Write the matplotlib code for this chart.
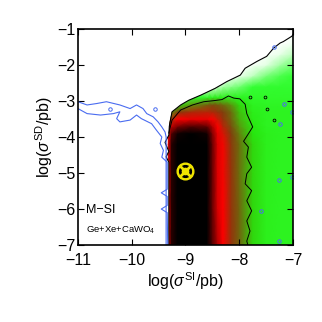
import numpy as np
import matplotlib.pyplot as plt
from matplotlib.colors import LinearSegmentedColormap
from matplotlib.path import Path
from matplotlib.patches import PathPatch

plt.rcParams['font.family'] = ['Liberation Sans', 'DejaVu Sans']
plt.rcParams['mathtext.fontset'] = 'custom'
plt.rcParams['mathtext.rm'] = 'Liberation Sans'
plt.rcParams['mathtext.it'] = 'Liberation Sans:italic'

# posterior density on a coarse grid: columns log(sigma_SI), rows log(sigma_SD)
grid_x = [-9.32, -9.26, -9.15, -8.9, -8.6, -8.5, -8.4, -8.3, -8.15, -8.0, -7.75, -7.5, -7.25, -7.0]
grid_y = [-7.0, -6.0, -5.0, -4.2, -3.9, -3.7, -3.5, -3.3, -3.1, -2.9, -2.6, -2.3, -2.0, -1.7, -1.4, -1.0]
density = [
    [0.75, 0.95, 1.0, 1.0, 1.0, 0.9, 0.8, 0.72, 0.62, 0.56, 0.42, 0.32, 0.3, 0.3],
    [0.75, 0.95, 1.0, 1.0, 1.0, 0.88, 0.76, 0.72, 0.62, 0.56, 0.42, 0.32, 0.3, 0.3],
    [0.75, 0.95, 1.0, 1.0, 1.0, 0.88, 0.75, 0.71, 0.62, 0.55, 0.42, 0.32, 0.3, 0.3],
    [0.75, 0.95, 1.0, 1.0, 1.0, 0.88, 0.75, 0.71, 0.61, 0.55, 0.42, 0.32, 0.3, 0.3],
    [0.72, 0.9, 0.98, 1.0, 0.98, 0.85, 0.74, 0.68, 0.6, 0.53, 0.4, 0.32, 0.3, 0.3],
    [0.6, 0.78, 0.85, 0.9, 0.88, 0.8, 0.72, 0.65, 0.58, 0.5, 0.38, 0.3, 0.3, 0.3],
    [0.5, 0.64, 0.72, 0.74, 0.74, 0.72, 0.67, 0.62, 0.56, 0.47, 0.35, 0.3, 0.3, 0.3],
    [0.4, 0.5, 0.6, 0.64, 0.65, 0.64, 0.62, 0.6, 0.55, 0.45, 0.33, 0.3, 0.3, 0.3],
    [0.2, 0.3, 0.4, 0.5, 0.56, 0.58, 0.57, 0.55, 0.5, 0.42, 0.3, 0.28, 0.28, 0.28],
    [0.05, 0.08, 0.12, 0.2, 0.28, 0.32, 0.34, 0.34, 0.32, 0.3, 0.26, 0.25, 0.25, 0.25],
    [0.0, 0.0, 0.02, 0.03, 0.05, 0.07, 0.09, 0.12, 0.14, 0.16, 0.2, 0.22, 0.23, 0.23],
    [0.0, 0.0, 0.0, 0.0, 0.0, 0.0, 0.0, 0.01, 0.02, 0.04, 0.1, 0.15, 0.18, 0.2],
    [0.0, 0.0, 0.0, 0.0, 0.0, 0.0, 0.0, 0.0, 0.0, 0.0, 0.02, 0.06, 0.12, 0.16],
    [0.0, 0.0, 0.0, 0.0, 0.0, 0.0, 0.0, 0.0, 0.0, 0.0, 0.0, 0.01, 0.05, 0.1],
    [0.0, 0.0, 0.0, 0.0, 0.0, 0.0, 0.0, 0.0, 0.0, 0.0, 0.0, 0.0, 0.0, 0.03],
    [0.0, 0.0, 0.0, 0.0, 0.0, 0.0, 0.0, 0.0, 0.0, 0.0, 0.0, 0.0, 0.0, 0.0],
]

# outer black contour (edge of the sampled region)
edge_x = [-9.31, -9.31, -9.36, -9.31, -9.38, -9.31, -9.30, -9.28, -9.25, -9.09, -8.94, -8.72, -8.45,
          -8.23, -7.98, -7.89, -7.67, -7.49, -7.36, -7.24, -7.18, -7.02, -7.0]
edge_y = [-7.0, -4.7, -4.55, -4.4, -4.15, -3.95, -3.7, -3.53, -3.30, -3.11, -2.98, -2.84, -2.65,
          -2.46, -2.28, -2.09, -1.9, -1.76, -1.53, -1.39, -1.35, -1.2, -1.15]

# inner black contour
inner_x = [-9.31, -9.25, -9.09, -8.87, -8.66, -8.47, -8.32, -8.20, -8.10, -7.99, -7.89, -7.86, -7.75,
           -7.83, -7.92, -7.83, -7.86, -7.77, -7.86, -7.89, -7.77, -7.86, -7.77, -7.86, -7.80, -7.86, -7.84]
inner_y = [-3.89, -3.53, -3.25, -3.11, -3.02, -2.99, -2.96, -2.86, -2.92, -2.94, -3.09, -3.35, -3.72,
           -3.91, -4.12, -4.28, -4.56, -4.84, -5.02, -5.30, -5.49, -5.77, -6.05, -6.33, -6.61, -6.89, -7.0]

# blue contour (two branches)
blue_top_x = [-11.0, -10.83, -10.65, -10.47, -10.22, -10.03, -9.91, -9.79, -9.72, -9.60, -9.51, -9.44,
              -9.38, -9.36, -9.36]
blue_top_y = [-3.02, -3.11, -3.07, -3.02, -3.11, -3.21, -3.11, -3.21, -3.35, -3.44, -3.58, -3.72,
              -3.86, -4.0, -7.0]
blue_low_x = [-11.0, -10.83, -10.58, -10.34, -10.22, -10.28, -10.22, -10.03, -9.91, -9.82, -9.63, -9.54,
              -9.44, -9.47, -9.41, -9.44, -9.34, -9.34, -9.45, -9.34, -9.34, -9.45, -9.34, -9.33]
blue_low_y = [-3.21, -3.35, -3.39, -3.35, -3.30, -3.49, -3.58, -3.53, -3.39, -3.49, -3.63, -3.81,
              -4.0, -4.18, -4.37, -4.56, -4.7, -5.45, -5.55, -5.65, -5.9, -6.0, -6.1, -7.0]

# small isolated contour islands
blue_dots_x = [-10.40, -9.57, -7.36, -7.17, -7.24, -7.02, -7.27, -7.02, -7.6, -7.27]
blue_dots_y = [-3.21, -3.21, -1.49, -3.08, -3.64, -3.3, -5.2, -5.1, -6.05, -6.9]
black_dots_x = [-7.8, -7.52, -7.49, -7.36]
black_dots_y = [-2.88, -2.9, -3.21, -3.53]

best_x, best_y = -9.0, -4.95

cmap = LinearSegmentedColormap.from_list('post', [
    (0.0, (1, 1, 1)), (0.08, (0.85, 1, 0.85)), (0.2, (0.2, 1, 0.2)), (0.4, (0.15, 0.9, 0.05)),
    (0.5, (0.35, 0.6, 0.05)), (0.6, (0.5, 0.25, 0.05)), (0.72, (1, 0, 0)), (0.85, (0.5, 0, 0)),
    (1.0, (0, 0, 0))])

fig = plt.figure(figsize=(3.22, 3.22), dpi=100)
ax = fig.add_axes([0.242, 0.239, 0.668, 0.671])

X, Y = np.meshgrid(grid_x, grid_y)
mesh = ax.pcolormesh(X, Y, np.array(density), shading='gouraud', cmap=cmap, vmin=0, vmax=1)
clip_verts = list(zip(edge_x, edge_y)) + [(-7.0, -7.0), (edge_x[0], edge_y[0])]
clip = PathPatch(Path(clip_verts), transform=ax.transData, facecolor='none', edgecolor='none')
mesh.set_clip_path(clip)

ax.plot(edge_x, edge_y, color='k', lw=0.8)
ax.plot(inner_x, inner_y, color='k', lw=0.7)
ax.plot(blue_top_x, blue_top_y, color='#4a6cf0', lw=0.8)
ax.plot(blue_low_x, blue_low_y, color='#4a6cf0', lw=0.8)
ax.plot(blue_dots_x, blue_dots_y, 'o', ms=2.5, mfc='none', mec='#4a6cf0', mew=0.7)
ax.plot(black_dots_x, black_dots_y, 'o', ms=2, mfc='none', mec='k', mew=0.6)

# best fit point
ax.plot(best_x, best_y, 'o', ms=12, mfc='#f0e400', mec='#f0e400')
ax.plot(best_x, best_y, 'o', ms=8.5, mfc='k', mec='k')
ax.plot(best_x, best_y, 'x', ms=6.5, mec='#f0e400', mew=2)
ax.plot(best_x, best_y, 'o', ms=4.5, mfc='#f0e400', mec='#f0e400')

ax.text(-10.85, -6.02, 'M\u2212SI', fontsize=9, va='center')
ax.text(-10.85, -6.6, 'Ge+Xe+CaWO$_4$', fontsize=6.8, va='center')

ax.set_xlim(-11, -7)
ax.set_ylim(-7, -1)
ax.set_xticks([-11, -10, -9, -8, -7])
ax.set_yticks([-7, -6, -5, -4, -3, -2, -1])
ax.tick_params(direction='in', top=True, right=True, length=4, width=0.8, labelsize=11.5)
ax.tick_params(axis='x', pad=5.5)
ax.tick_params(axis='y', pad=2)
for s in ax.spines.values():
    s.set_linewidth(1.2)
ax.set_xlabel(r'log($\sigma^{\rm SI}$/pb)', fontsize=11.5, labelpad=2)
ax.set_ylabel(r'log($\sigma^{\rm SD}$/pb)', fontsize=11.5, labelpad=1)

fig.savefig('out.png', dpi=100)
